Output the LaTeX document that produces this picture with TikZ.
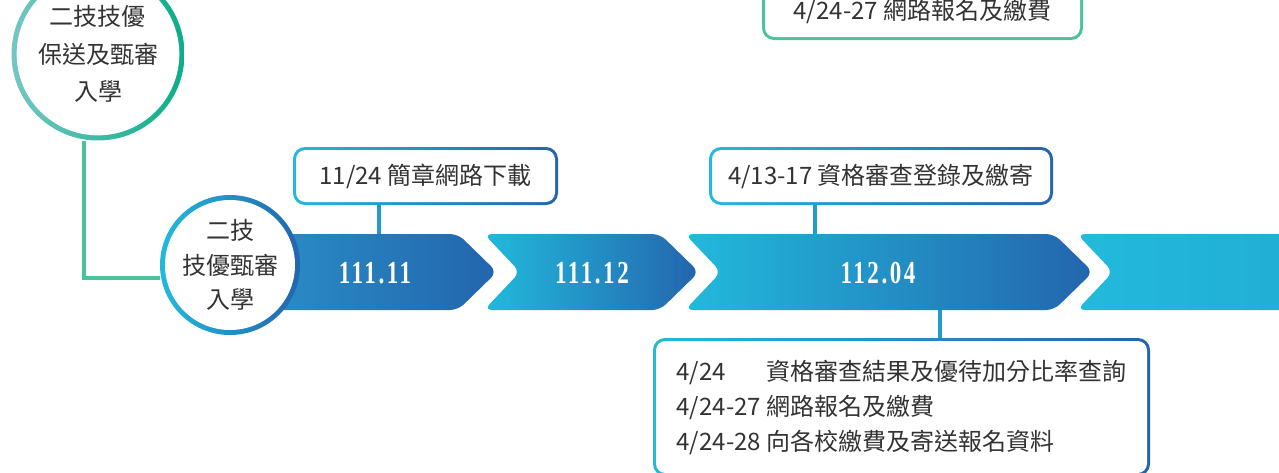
\documentclass[tikz,border=0pt]{standalone}
\usepackage{fontspec}
\setmainfont{Noto Sans CJK TC}
\newfontfamily\bandfont[FakeStretch=0.72, LetterSpace=8]{Liberation Serif}
\usetikzlibrary{backgrounds}

\definecolor{skycyan}{HTML}{22BADC}
\definecolor{deepblue}{HTML}{2365AD}
\definecolor{midblue}{HTML}{2A90C8}
\definecolor{leafgreen}{HTML}{4CC29B}
\definecolor{paleteal}{HTML}{74C7C3}
\definecolor{darkgreen}{HTML}{0AAE86}
\definecolor{inkgray}{HTML}{333333}

\newlength\datew

\tikzset{
    band/.style={left color=skycyan, right color=deepblue, rounded corners=6pt},
    bandlabel/.style={text=white, font=\bandfont\bfseries\fontsize{24}{26}\selectfont},
    ringnode/.style={circle, inner sep=0pt, text=inkgray, align=center,
        path picture={\fill[white] (path picture bounding box.center) circle (#1);}},
    gradbox/.style={rounded corners=9pt, text=inkgray, font=\fontsize{18}{22}\selectfont,
        path picture={\fill[white, rounded corners=7pt]
            ([shift={(2.25pt,2.25pt)}]path picture bounding box.south west) rectangle
            ([shift={(-2.25pt,-2.25pt)}]path picture bounding box.north east);}},
    stem/.style={line width=3pt, skycyan!65!deepblue},
    greenline/.style={line width=3pt, leafgreen}
}

\begin{document}
\begin{tikzpicture}[x=0.75pt, y=-0.75pt]
        \useasboundingbox (0,0) rectangle (1279,472);
        \clip (0,0) rectangle (1279,472);
        % time bands
        \shade[band, left color=midblue] (250,234) -- (458,234) -- (497,272) -- (458,310) -- (250,310) -- cycle;
        \shade[band] (484,234) -- (660,234) -- (699,272) -- (660,310) -- (484,310) -- (520,272) -- cycle;
        \shade[band] (685,234) -- (1054,234) -- (1093,272) -- (1054,310) -- (685,310) -- (721,272) -- cycle;
        \shade[band, right color=skycyan!85!deepblue] (1077,234) -- (1300,234) -- (1300,310) -- (1077,310) -- (1113,272) -- cycle;
        \node[bandlabel] (nov) at (375,273) {111.11};
        \node[bandlabel] (dec) at (592,273) {111.12};
        \node[bandlabel] (apr) at (878,273) {112.04};
        % circles
        \node[ringnode=48.75pt, minimum size=105pt, left color=skycyan, right color=deepblue,
            font=\fontsize{18}{26}\selectfont] (skill) at (230,265) {二技\\技優甄審\\入學};
        \node[ringnode=61pt, minimum size=129.75pt, left color=paleteal, right color=darkgreen,
            font=\fontsize{18}{28}\selectfont] (guarantee) at (98,54) {二技技優\\保送及甄審\\入學};
        % boxes
        \node[gradbox, left color=skycyan, right color=deepblue, minimum width=198.75pt,
            minimum height=43.5pt] (guide) at (425.5,176) {11/24 簡章網路下載};
        \node[gradbox, left color=skycyan, right color=deepblue, minimum width=258pt,
            minimum height=43.5pt] (review) at (881,176) {4/13-17 資格審查登錄及繳寄};
        \node[gradbox, left color=leafgreen, right color=leafgreen, minimum width=240.75pt,
            minimum height=42pt] (signup) at (922.5,12) {4/24-27 網路報名及繳費};
        \node[gradbox, left color=skycyan, right color=deepblue, minimum width=372.75pt,
            minimum height=103.5pt, align=left, font=\fontsize{18}{26.25}\selectfont] (results) at (901.5,407)
            {\settowidth\datew{4/24-27 }\makebox[\datew][l]{4/24}資格審查結果及優待加分比率查詢\\
             4/24-27 網路報名及繳費\\
             4/24-28 向各校繳費及寄送報名資料};
        % connectors
        \begin{scope}[on background layer]
            \coordinate (t1) at (379,234);
            \coordinate (t2) at (815,234);
            \coordinate (t3) at (940,310);
            \coordinate (bend) at (84,278);
            \draw[stem] (guide.south -| t1) -- (t1);
            \draw[stem] (review.south -| t2) -- (t2);
            \draw[stem] (t3) -- (t3 |- results.north);
            \draw[greenline] (bend |- guarantee.south) -- (bend) -- (bend -| skill.west);
        \end{scope}
\end{tikzpicture}
\end{document}
